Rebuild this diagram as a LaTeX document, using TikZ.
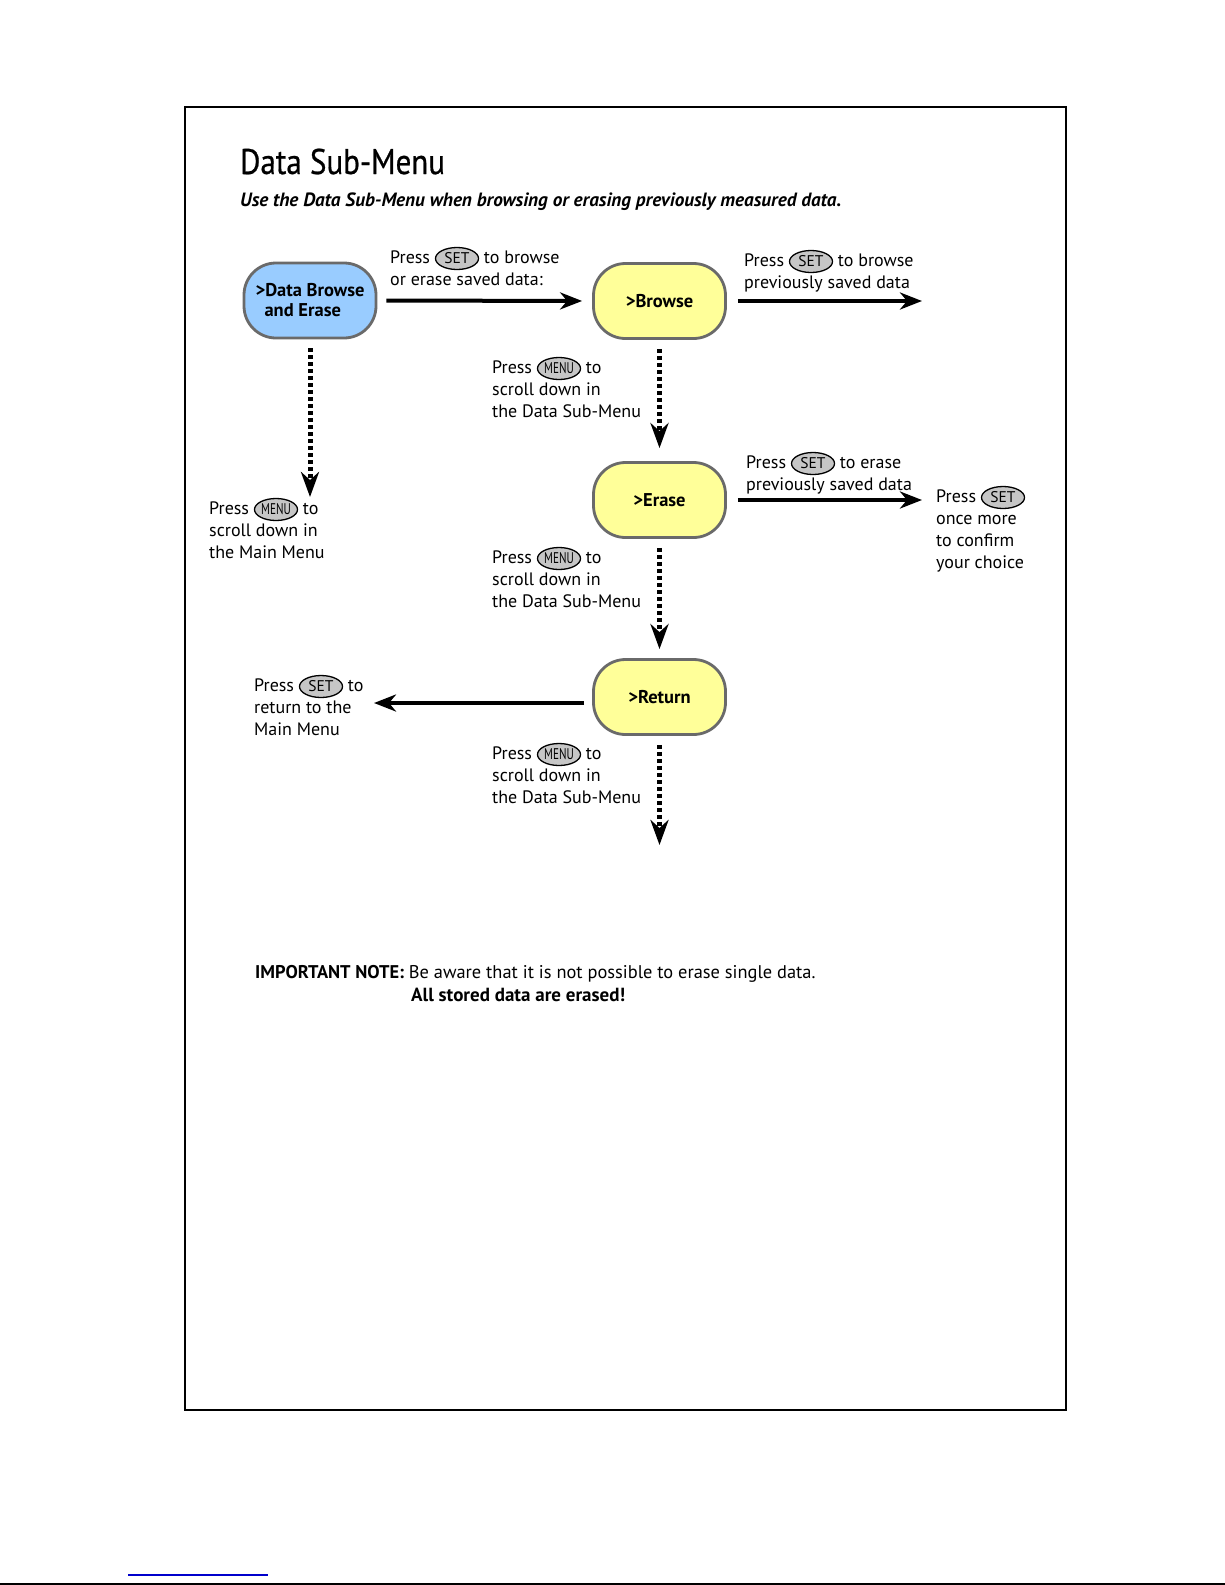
\documentclass[tikz,border=0pt]{standalone}
\usepackage{graphicx}
\usepackage{fontspec}
\setmainfont{PT Sans}
\newfontfamily\titlefont[FakeBold=0.7]{PT Sans}
\usetikzlibrary{arrows.meta,shapes.geometric}
\definecolor{boxblue}{HTML}{99CCFF}
\definecolor{boxyellow}{HTML}{FFFF99}
\definecolor{boxline}{HTML}{6A6A6A}
\definecolor{keyfill}{HTML}{C6C6C6}
\definecolor{linkblue}{HTML}{0000CC}
\tikzset{
  keyoval/.style={ellipse, draw=black, line width=1.3pt, fill=keyfill,
    minimum width=43pt, minimum height=22pt, inner sep=0pt,
    font=\fontsize{15.5}{15.5}\selectfont},
}
\newcommand\keysym[1]{\tikz[baseline={([yshift=-4.5pt]kk.center)}]\node[keyoval](kk){#1};}
\newcommand\menukey{\keysym{\scalebox{0.72}[1]{MENU}}}
\begin{document}
\begin{tikzpicture}[x=1pt,y=-1pt,
  stateb/.style={draw=boxline, line width=2.8pt, rounded corners=32pt,
    minimum width=132pt, minimum height=75pt, inner sep=0pt, align=left,
    font=\fontsize{18.5}{20}\selectfont\bfseries},
  lbl/.style={anchor=base west, align=left, inner sep=0pt,
    font=\fontsize{18}{22}\selectfont},
  solidarrow/.style={line width=4pt, -{Stealth[length=22pt,width=17pt,inset=7pt]}},
  dotarrow/.style={line width=5pt, dash pattern=on 4pt off 3pt,
    -{Stealth[length=25pt,width=18pt,inset=8pt]}},
]
\useasboundingbox[fill=white] (0,0) rectangle (1225,1585);
\draw[line width=1.5pt] (185,107) rectangle (1066,1410);
\draw[linkblue, line width=1.2pt] (128,1575) -- (268,1575);
\draw[line width=2pt] (0,1584) -- (1225,1584);

\node[anchor=base west, inner sep=0pt, font=\fontsize{31}{40}\titlefont] (title) at (240,174) {\scalebox{1}[1.15]{Data Sub-Menu}};
\node[anchor=base west, inner sep=0pt, font=\fontsize{19.2}{22}\selectfont\bfseries\itshape] (subtitle) at (240,206) {Use the Data Sub-Menu when browsing or erasing previously measured data.};

\node[stateb, fill=boxblue] (dbe) at (310,300.5) {>Data Browse\\\hspace*{9pt}and Erase};
\node[stateb, fill=boxyellow, align=center] (browse) at (659.5,301) {>Browse};
\node[stateb, fill=boxyellow, align=center] (erase) at (659.5,500) {>Erase};
\node[stateb, fill=boxyellow, align=center] (ret) at (659.5,697) {>Return};

\coordinate (browseout) at (922,301);
\coordinate (eraseout) at (922,500);
\coordinate (retout) at (374,703);
\coordinate (dbedown) at (310,497);
\coordinate (retdown) at (659.5,845);

\draw[solidarrow, shorten <=9pt, shorten >=10pt] (dbe.east) -- (browse.west);
\draw[solidarrow, shorten <=11pt] (browse.east) -- (browseout);
\draw[solidarrow, shorten <=11pt] (erase.east) -- (eraseout);
\draw[solidarrow, shorten <=8pt] (ret.west |- retout) -- (retout);

\draw[dotarrow, shorten <=9pt] (dbe.south) -- (dbedown);
\draw[dotarrow, shorten <=9pt, shorten >=13pt] (browse.south) -- (erase.north);
\draw[dotarrow, shorten <=9pt, shorten >=9pt] (erase.south) -- (ret.north);
\draw[dotarrow, shorten <=9pt] (ret.south) -- (retdown);

\node[lbl] (l1) at (390,285) {Press \keysym{SET} to browse\\or erase saved data:};
\node[lbl] (l2) at (744,288) {Press \keysym{SET} to browse\\previously saved data};
\node[lbl] (l3) at (492,417) {Press \menukey{} to\\scroll down in\\the Data Sub-Menu};
\node[lbl] (l4) at (209,558) {Press \menukey{} to\\scroll down in\\the Main Menu};
\node[lbl] (l5) at (746,490) {Press \keysym{SET} to erase\\previously saved data};
\node[lbl] (l6) at (936,568) {Press \keysym{SET}\\once more\\to confirm\\your choice};
\node[lbl] (l7) at (492,607) {Press \menukey{} to\\scroll down in\\the Data Sub-Menu};
\node[lbl] (l8) at (254,735) {Press \keysym{SET} to\\return to the\\Main Menu};
\node[lbl] (l9) at (492,803) {Press \menukey{} to\\scroll down in\\the Data Sub-Menu};

\node[lbl, font=\fontsize{18.4}{22}\selectfont] (note1) at (255,978) {\textbf{IMPORTANT NOTE:} Be aware that it is not possible to erase single data.};
\node[lbl, font=\fontsize{19}{22}\selectfont\bfseries] (note2) at (411,1001) {All stored data are erased!};
\end{tikzpicture}
\end{document}
